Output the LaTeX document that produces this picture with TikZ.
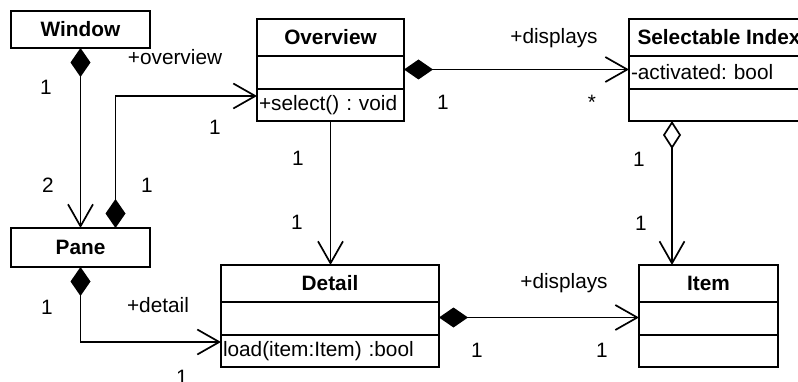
\documentclass[tikz,border=0pt]{standalone}
\usepackage{fontspec}
\setmainfont{Liberation Sans}
\usetikzlibrary{arrows.meta,positioning}

\newcommand{\umlfont}{\fontsize{20.8}{25}\selectfont\frenchspacing}

\tikzset{
  cls/.style={draw, line width=1.7pt, outer sep=0pt, inner sep=0pt, font=\umlfont\bfseries, minimum height=37pt},
  comp/.style={draw, line width=1.7pt, outer sep=0pt, inner xsep=2pt, inner ysep=0pt, font=\umlfont, minimum height=33pt, align=left},
  lbl/.style={anchor=base, font=\umlfont, inner sep=0pt},
  owns/.style={line width=1.7pt, {Diamond[length=29pt,width=20pt]}-{Straight Barb[length=22pt,width=25pt]}},
  shares/.style={line width=1.7pt, {Diamond[open,length=28pt,width=18pt]}-{Straight Barb[length=22pt,width=25pt]}},
  navto/.style={line width=1.7pt, -{Straight Barb[length=22pt,width=25pt]}},
}

\begin{document}
\begin{tikzpicture}[x=1pt, y=-1pt]
  \useasboundingbox (0,0) rectangle (798,382);
  \clip (0,0) rectangle (798,382);

  % Window and Pane
  \node[cls, minimum width=139pt, anchor=north west] (window) at (11,11) {Window};
  \node[cls, minimum width=139pt, minimum height=39pt, anchor=north west] (pane) at (11,228) {Pane};

  % Overview
  \node[cls, minimum width=147pt, anchor=north west] (overview) at (257,19) {Overview};
  \node[comp, minimum width=147pt, below=0pt of overview] (ovattr) {};
  \node[comp, text width=143pt, minimum height=32pt, below=0pt of ovattr] (ovops) {+select() : void};

  % Selectable Index
  \node[cls, minimum width=180pt, anchor=north west] (selidx) at (629,19) {Selectable Index};
  \node[comp, text width=176pt, below=0pt of selidx] (selattr) {-activated: bool};
  \node[comp, minimum width=180pt, minimum height=32pt, below=0pt of selattr] (selops) {};

  % Detail
  \node[cls, minimum width=218pt, anchor=north west] (detail) at (221,265) {Detail};
  \node[comp, minimum width=218pt, below=0pt of detail] (detattr) {};
  \node[comp, text width=214pt, minimum height=32pt, below=0pt of detattr] (detops) {load(item:Item) :bool};

  % Item
  \node[cls, minimum width=139pt, anchor=north west] (item) at (639,265) {Item};
  \node[comp, minimum width=139pt, below=0pt of item] (itemattr) {};
  \node[comp, minimum width=139pt, minimum height=32pt, below=0pt of itemattr] (itemops) {};

  % associations
  \draw[owns] (window.south) -- (pane.north);
  \draw[owns] ([xshift=35pt]pane.north) |- ([yshift=9pt]ovops.west);
  \draw[owns] ([yshift=3pt]ovattr.east) -- ([yshift=3pt]selattr.west);
  \draw[navto] (ovops.south) -- (ovops.south |- detail.north);
  \draw[shares] ([xshift=43pt]selops.south west) -- ([xshift=33pt]item.north west);
  \draw[owns] ([yshift=1pt]detattr.east) -- ([yshift=1pt]itemattr.west);
  \draw[owns] (pane.south) |- ([yshift=9pt]detops.west);

  % roles
  \node[lbl] (roleov) at (175,64.5) {+overview};
  \node[lbl] (rolesel) at (554,44) {+displays};
  \node[lbl] (roleitem) at (564,288) {+displays};
  \node[lbl] (roledet) at (158,312) {+detail};

  % multiplicities
  \node[lbl] (mwin) at (46,95) {1};
  \node[lbl] (mpane) at (48,193) {2};
  \node[lbl] (mpaneov) at (147,193) {1};
  \node[lbl] (movpane) at (215,135) {1};
  \node[lbl] (movsel) at (443,110) {1};
  \node[lbl] (mselov) at (592,110) {*};
  \node[lbl] (movdet) at (298,166) {1};
  \node[lbl] (mdetov) at (297,230) {1};
  \node[lbl] (mselitem) at (639,167) {1};
  \node[lbl] (mitemsel) at (641,231) {1};
  \node[lbl] (mdetitem) at (477,357) {1};
  \node[lbl] (mitemdet) at (602,357) {1};
  \node[lbl] (mpanedet) at (47,314) {1};
  \node[lbl] (mdetpane) at (182,384) {1};
\end{tikzpicture}
\end{document}
